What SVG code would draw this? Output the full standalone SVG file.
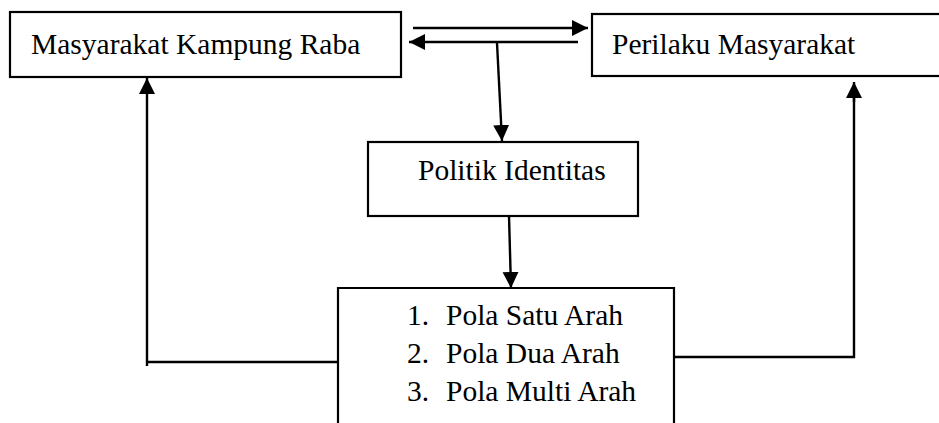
<svg xmlns="http://www.w3.org/2000/svg" width="939" height="423" viewBox="0 0 939 423">
<style>
.box{fill:#fff;stroke:#000;stroke-width:2.2}
.lbl{font-family:"Liberation Serif","Times New Roman",serif;font-size:29.5px;fill:#000}
.ln{fill:none;stroke:#000;stroke-width:2.4}
</style>
<defs>
<marker id="ah" markerUnits="userSpaceOnUse" markerWidth="18" markerHeight="18" viewBox="0 0 18 18" refX="16" refY="9" orient="auto">
<path d="M0,1 L16,9 L0,17 Z" fill="#000"/>
</marker>
</defs>
<rect width="939" height="423" fill="#fff"/>
<g id="masyarakat">
<rect class="box" x="10" y="12" width="391" height="65"/>
<text class="lbl" x="31" y="54">Masyarakat Kampung Raba</text>
</g>
<g id="perilaku">
<rect class="box" x="592" y="14" width="360" height="62"/>
<text class="lbl" x="612" y="54">Perilaku Masyarakat</text>
</g>
<g id="politik">
<rect class="box" x="368" y="142" width="270" height="74"/>
<text class="lbl" x="418" y="180">Politik Identitas</text>
</g>
<g id="pola">
<path class="box" d="M338,430 V288 H674 V430"/>
<text class="lbl" x="407" y="325">1.</text>
<text class="lbl" x="446" y="325">Pola Satu Arah</text>
<text class="lbl" x="407" y="363">2.</text>
<text class="lbl" x="446" y="363">Pola Dua Arah</text>
<text class="lbl" x="407" y="401">3.</text>
<text class="lbl" x="446" y="401">Pola Multi Arah</text>
</g>
<g id="connectors">
<line class="ln" x1="413" y1="28" x2="588" y2="28" marker-end="url(#ah)"/>
<line class="ln" x1="578" y1="42" x2="409" y2="42" marker-end="url(#ah)"/>
<line class="ln" x1="497" y1="43" x2="502" y2="141" marker-end="url(#ah)"/>
<line class="ln" x1="509" y1="216" x2="511" y2="288" marker-end="url(#ah)"/>
<path class="ln" d="M338,362 H147"/>
<line class="ln" x1="147" y1="366" x2="147" y2="78" marker-end="url(#ah)"/>
<path class="ln" d="M674,357 H854 V92"/>
<line class="ln" x1="854" y1="102" x2="854" y2="82" marker-end="url(#ah)"/>
</g>
</svg>
